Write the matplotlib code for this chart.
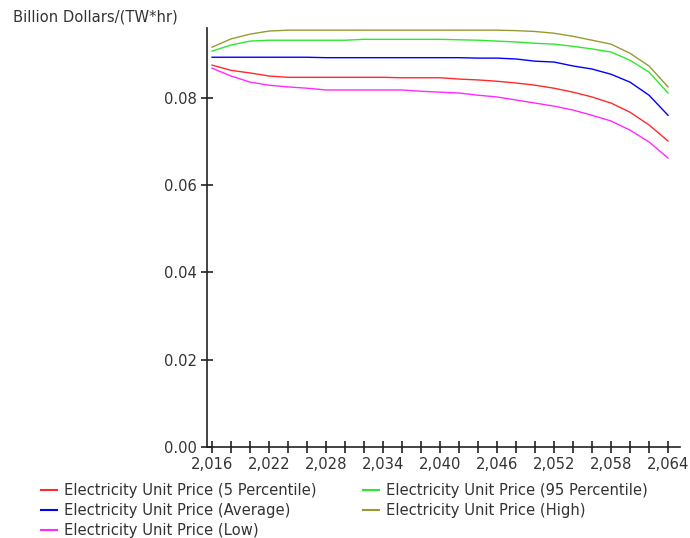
import matplotlib.pyplot as plt
from matplotlib.ticker import MultipleLocator, FuncFormatter
from matplotlib.lines import Line2D

######## Data ########
years = list(range(2016, 2065, 2))

price_5pct = [0.0875, 0.0863, 0.0857, 0.0850, 0.0847, 0.0847, 0.0847, 0.0847, 0.0847,
              0.0847, 0.0846, 0.0846, 0.0846, 0.0843, 0.0841, 0.0838, 0.0834, 0.0829,
              0.0822, 0.0813, 0.0802, 0.0788, 0.0767, 0.0738, 0.0701]
price_95pct = [0.0907, 0.0921, 0.0930, 0.0932, 0.0932, 0.0932, 0.0932, 0.0932, 0.0934,
               0.0934, 0.0934, 0.0934, 0.0934, 0.0933, 0.0932, 0.0930, 0.0928, 0.0925,
               0.0923, 0.0918, 0.0912, 0.0905, 0.0886, 0.0859, 0.0811]
price_avg = [0.0893, 0.0893, 0.0893, 0.0893, 0.0893, 0.0893, 0.0892, 0.0892, 0.0892,
             0.0892, 0.0892, 0.0892, 0.0892, 0.0892, 0.0891, 0.0891, 0.0889, 0.0884,
             0.0882, 0.0873, 0.0866, 0.0854, 0.0836, 0.0806, 0.0760]
price_high = [0.0916, 0.0935, 0.0946, 0.0953, 0.0955, 0.0955, 0.0955, 0.0955, 0.0955,
              0.0955, 0.0955, 0.0955, 0.0955, 0.0955, 0.0955, 0.0955, 0.0954, 0.0952,
              0.0948, 0.0941, 0.0932, 0.0923, 0.0902, 0.0873, 0.0825]
price_low = [0.0868, 0.0850, 0.0836, 0.0829, 0.0825, 0.0822, 0.0818, 0.0818, 0.0818,
             0.0818, 0.0818, 0.0815, 0.0813, 0.0811, 0.0806, 0.0802, 0.0795, 0.0788,
             0.0781, 0.0772, 0.0760, 0.0747, 0.0726, 0.0699, 0.0662]

series = [
    ("Electricity Unit Price (5 Percentile)", price_5pct, "#ff2a2a"),
    ("Electricity Unit Price (95 Percentile)", price_95pct, "#2ee82e"),
    ("Electricity Unit Price (Average)", price_avg, "#0000ff"),
    ("Electricity Unit Price (High)", price_high, "#999933"),
    ("Electricity Unit Price (Low)", price_low, "#ff2aff"),
]
######################

FS = 10.6
plt.rcParams['font.family'] = ['DejaVu Sans']
plt.rcParams['font.size'] = FS

fig = plt.figure(figsize=(6.9, 5.38), dpi=100)
ax = fig.add_axes([207 / 690, 1 - 447 / 538, 473 / 690, 419 / 538])

for name, vals, col in series:
    ax.plot(years, vals, color=col, linewidth=1.0)

ax.set_xlim(2015.47, 2065.26)
ax.set_ylim(0, 0.096)

ax.spines['top'].set_visible(False)
ax.spines['right'].set_visible(False)
for s in ('left', 'bottom'):
    ax.spines[s].set_linewidth(1.2)
    ax.spines[s].set_color('#222222')

ax.xaxis.set_major_locator(MultipleLocator(6))
ax.xaxis.set_minor_locator(MultipleLocator(2))
ax.xaxis.set_major_formatter(FuncFormatter(lambda v, p: "{:,}".format(int(round(v)))))
ax.yaxis.set_major_locator(MultipleLocator(0.02))
ax.yaxis.set_major_formatter(FuncFormatter(lambda v, p: "%.2f" % v))

ax.tick_params(axis='both', which='both', direction='inout', length=9, width=1.2,
               color='#222222', labelcolor='#333333', labelsize=FS)
ax.tick_params(axis='x', pad=3)
ax.tick_params(axis='y', pad=3)

fig.text(13 / 690, 1 - 17 / 538, "Billion Dollars/(TW*hr)", fontsize=FS,
         color='#333333', va='center', ha='left')

# legend laid out column by column: left column first, then right
order = [0, 2, 4, 1, 3]
handles = [Line2D([], [], color=series[i][2], linewidth=1.5) for i in order]
labels = [series[i][0] for i in order]
fig.legend(handles, labels, loc='upper left', bbox_to_anchor=(41 / 690, 1 - 483 / 538),
           ncol=2, frameon=False, fontsize=FS, handlelength=1.1, handletextpad=0.45,
           labelspacing=0.33, columnspacing=3.15, borderpad=0, borderaxespad=0,
           labelcolor='#333333')

fig.savefig("out.png", dpi=100)
